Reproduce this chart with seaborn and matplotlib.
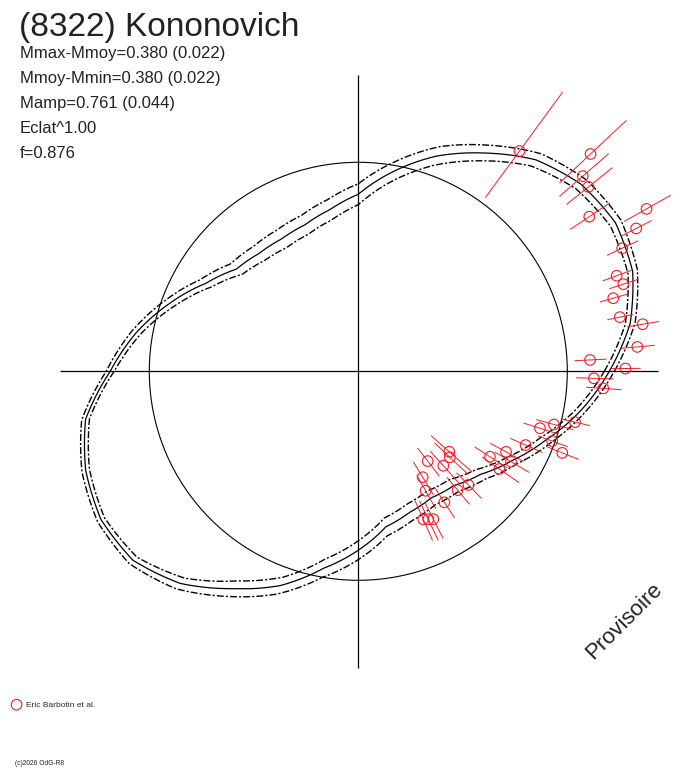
import numpy as np
import pandas as pd
import matplotlib
matplotlib.use("Agg")
import matplotlib.pyplot as plt
import seaborn as sns

# ---- fitted light curve (relative flux, 1 = mean), every 10 deg of phase
curve_deg = [0, 10, 20, 30, 40, 50, 60, 70, 80, 90, 100, 110,
             120, 130, 140, 150, 160, 170, 180, 190, 200, 210, 220, 230,
             240, 250, 260, 270, 280, 290, 300, 310, 320, 330, 340, 350]
curve_flux = [1.201, 1.321, 1.397, 1.421, 1.392, 1.321, 1.206, 1.096, 0.971, 0.847, 0.785, 0.746,
              0.732, 0.737, 0.761, 0.842, 0.957, 1.077, 1.187, 1.325, 1.388, 1.421, 1.407, 1.325,
              1.201, 1.091, 0.957, 0.856, 0.756, 0.718, 0.699, 0.713, 0.766, 0.852, 0.957, 1.081]
# half width of the uncertainty band (flux units)
curve_band = [0.024, 0.024, 0.024, 0.029, 0.033, 0.038, 0.043, 0.048, 0.048, 0.050, 0.050, 0.048,
              0.048, 0.043, 0.038, 0.033, 0.029, 0.024, 0.019, 0.019, 0.019, 0.019, 0.024, 0.033,
              0.043, 0.043, 0.045, 0.045, 0.043, 0.041, 0.038, 0.036, 0.033, 0.029, 0.029, 0.024]

# ---- observations (Eric Barbotin et al.)
obs_deg = [53.8, 43.1, 41.0, 38.7, 33.8, 29.4, 27.2, 25.0, 20.3, 18.2, 16.0, 11.7,
           9.4, 5.0, 2.8, 0.6, -1.7, -4.0, -13.2, -15.2, -17.4, -19.8, -21.8, -23.8,
           -28.6, -33.0, -30.6, -34.7, -41.5, -43.2, -52.3, -48.0, -58.7, -45.9, -50.1, -60.6,
           -56.7, -66.3, -64.7, -63.1]
obs_flux = [1.306, 1.522, 1.423, 1.411, 1.330, 1.583, 1.495, 1.393, 1.318, 1.335, 1.269, 1.278,
            1.379, 1.340, 1.110, 1.278, 1.128, 1.175, 1.065, 0.970, 0.911, 0.986, 1.051, 0.875,
            0.805, 0.751, 0.849, 0.821, 0.581, 0.601, 0.543, 0.608, 0.593, 0.757, 0.741, 0.656,
            0.750, 0.773, 0.783, 0.793]
obs_err = [0.258, 0.156, 0.119, 0.108, 0.094, 0.088, 0.059, 0.064, 0.060, 0.059, 0.058, 0.053,
           0.061, 0.066, 0.075, 0.061, 0.086, 0.078, 0.073, 0.103, 0.103, 0.084, 0.084, 0.103,
           0.123, 0.133, 0.123, 0.142, 0.242, 0.198, 0.170, 0.180, 0.170, 0.123, 0.123, 0.152,
           0.123, 0.145, 0.145, 0.133]

title = "(8322) Kononovich"
info_lines = ["Mmax-Mmoy=0.380 (0.022)", "Mmoy-Mmin=0.380 (0.022)",
              "Mamp=0.761 (0.044)", "Eclat^1.00", "f=0.876"]

RED = "#ee1c25"

sns.set_style("white")
plt.rcParams["font.family"] = ["Liberation Sans", "DejaVu Sans"]
plt.rcParams["lines.scale_dashes"] = False

fig = plt.figure(figsize=(6.88, 7.68), dpi=100)
W, H = 688, 768
RMAX = 1.8
cx, cy, R = 358.3, 371.3, 209 * RMAX     # centre (px) and radius of the polar frame
ax = fig.add_axes([(cx - R) / W, (H - cy - R) / H, 2 * R / W, 2 * R / H],
                  projection="polar")
ax.set_rlim(0, RMAX)
ax.set_axis_off()

# closed curve
th = np.deg2rad(curve_deg + [curve_deg[0] + 360])
fl = np.array(curve_flux + [curve_flux[0]])
bd = np.array(curve_band + [curve_band[0]])
df = pd.DataFrame({"theta": th, "flux": fl, "hi": fl + bd, "lo": fl - bd})

# axes cross and mean circle
ax.vlines(np.deg2rad([0, 90, 180, 270]), 0, [1.433, 1.42, 1.428, 1.42], color="k", lw=0.9)
circ = np.linspace(0, 2 * np.pi, 361)
ax.plot(circ, np.ones_like(circ), color="k", lw=0.8)

sns.lineplot(data=df, x="theta", y="flux", sort=False, estimator=None,
             color="k", lw=0.9, ax=ax)
for col in ["hi", "lo"]:
    sns.lineplot(data=df, x="theta", y=col, sort=False, estimator=None,
                 color="k", lw=1.0, ls=(0, (5, 1.5, 1.5, 1.5)), ax=ax)
# let the polar transform draw each segment as a smooth spiral arc
for ln in ax.lines:
    ln.get_path()._interpolation_steps = 20

# observations with radial error bars
ot = np.deg2rad(obs_deg)
of = np.array(obs_flux)
oe = np.array(obs_err)
ax.vlines(ot, of * 10 ** (-0.4 * oe), of * 10 ** (0.4 * oe), color=RED, lw=0.7)
sns.scatterplot(x=ot, y=of, ax=ax, marker="o", s=58, facecolor="none",
                edgecolor=RED, linewidth=0.8, label="Eric Barbotin et al.", zorder=5)
ax.set_xlabel("")
ax.set_ylabel("")

leg = ax.legend(loc="center left", bbox_to_anchor=(12 / W, 1 - 705 / H),
                bbox_transform=fig.transFigure, frameon=False, fontsize=6,
                handlelength=1.1, handletextpad=0.6, borderpad=0, borderaxespad=0)

# texts
fig.text(19 / W, 1 - 36 / H, title, fontsize=24, va="baseline", color="#222222")
for i, line in enumerate(info_lines):
    fig.text(20 / W, 1 - (58 + 25 * i) / H, line, fontsize=12, va="baseline", color="#222222")
fig.text(624 / W, 1 - 621 / H, "Provisoire", fontsize=16, rotation=45,
         ha="center", va="center", rotation_mode="anchor", color="#222222")
fig.text(15 / W, 1 - 765 / H, "(c)2026 OdG-R8", fontsize=4.8, va="baseline", color="#222222")

fig.savefig("out.png", dpi=100)
